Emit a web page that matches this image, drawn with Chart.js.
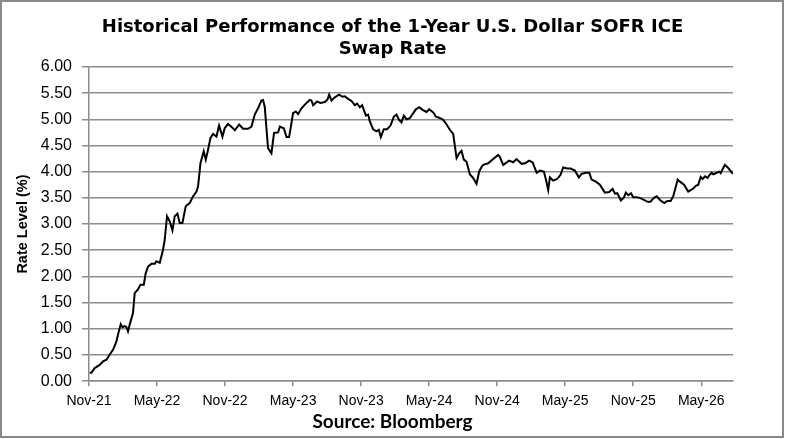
<!DOCTYPE html>
<html><head><meta charset="utf-8">
<script src="https://cdn.jsdelivr.net/npm/chart.js@4.4.1/dist/chart.umd.min.js"></script>
<style>html,body{margin:0;padding:0;background:#fff}#wrap{width:785px;height:439px}</style>
</head><body><div id="wrap"><canvas id="c" width="785" height="439"></canvas></div>
<script>
const titleLines = ['Historical Performance of the 1-Year U.S. Dollar SOFR ICE', 'Swap Rate'];
const sourceText = 'Source: Bloomberg';
const yAxisTitle = 'Rate Level (%)';
const tickLabels = ['Nov-21','May-22','Nov-22','May-23','Nov-23','May-24','Nov-24','May-25','Nov-25','May-26'];
// x position of each observation, in months since Nov-21
const months = [
0.06,0.21,0.50,0.94,1.24,1.54,1.83,2.12,2.42,2.56,2.80,2.95,3.15,3.30,3.44,3.59,3.88,4.03,4.32,4.54,4.83,5.00,5.21,5.51,5.80,5.95,6.24,6.53,6.68,6.88,7.12,7.36,7.56,7.80,8.00,8.24,8.53,8.88,9.18,9.48,9.62,9.83,10.12,10.30,10.50,10.71,10.94,11.24,11.47,11.77,11.97,12.26,12.65,12.86,13.24,13.59,14.03,14.33,14.62,14.91,15.21,15.35,15.50,15.79,16.09,16.32,16.68,
16.83,17.18,17.42,17.65,18.00,18.24,18.44,18.74,19.12,19.47,19.62,19.77,20.12,20.42,20.80,21.04,21.18,21.39,21.68,22.06,22.36,22.56,22.85,23.15,23.44,23.65,23.89,24.09,24.24,24.42,24.62,24.77,25.06,25.36,25.56,25.74,26.00,26.29,26.59,26.89,27.12,27.35,27.56,27.77,28.01,28.30,28.54,28.83,29.12,29.42,29.77,30.00,30.21,30.41,30.59,30.88,31.24,31.54,31.83,32.12,32.42,32.65,32.86,33.06,33.30,33.59,33.88,34.18,34.41,
34.62,34.77,35.21,35.65,36.09,36.24,36.53,37.06,37.41,37.71,38.15,38.45,38.82,39.12,39.48,39.77,40.12,40.30,40.50,40.65,40.94,41.29,41.59,41.82,42.18,42.48,42.86,43.21,43.45,43.83,44.12,44.33,44.71,45.06,45.50,45.88,46.18,46.39,46.59,46.91,47.18,47.35,47.56,47.80,48.00,48.30,48.59,48.94,49.32,49.54,49.83,50.07,50.36,50.74,51.00,51.30,51.53,51.68,51.92,52.12,52.48,52.85,53.24,53.53,53.74,53.95,54.13,54.33,54.57,54.71,54.92,55.06,55.36,55.59,55.71,55.89,56.09,56.38,56.79
];
// 1-Year SOFR ICE swap rate, %
const rates = [
0.16,0.16,0.25,0.31,0.38,0.41,0.51,0.60,0.76,0.89,1.09,1.03,1.05,1.03,0.95,1.08,1.30,1.68,1.75,1.84,1.84,2.06,2.19,2.24,2.24,2.29,2.26,2.51,2.70,3.15,3.05,2.88,3.15,3.20,3.02,3.02,3.34,3.40,3.53,3.62,3.72,4.16,4.39,4.23,4.42,4.64,4.72,4.67,4.88,4.67,4.83,4.91,4.84,4.79,4.90,4.82,4.82,4.86,5.09,5.21,5.36,5.37,5.24,4.45,4.35,4.74,4.75,
4.86,4.83,4.66,4.66,5.12,5.15,5.10,5.21,5.30,5.37,5.36,5.27,5.34,5.31,5.33,5.38,5.47,5.36,5.42,5.47,5.43,5.44,5.39,5.35,5.27,5.30,5.23,5.27,5.18,5.07,5.09,4.96,4.81,4.77,4.80,4.66,4.81,4.81,4.88,5.05,5.09,4.99,4.94,5.07,5.00,5.02,5.10,5.19,5.23,5.18,5.14,5.19,5.16,5.12,5.05,5.03,4.99,4.90,4.80,4.72,4.26,4.35,4.40,4.23,4.19,3.95,3.88,3.77,4.00,
4.09,4.13,4.16,4.24,4.32,4.28,4.13,4.21,4.18,4.24,4.15,4.16,4.21,4.18,3.98,4.02,4.00,3.85,3.65,3.89,3.83,3.86,3.94,4.08,4.06,4.06,4.02,3.89,3.96,3.98,3.98,3.85,3.81,3.75,3.60,3.61,3.67,3.58,3.59,3.45,3.51,3.60,3.55,3.59,3.51,3.51,3.50,3.46,3.42,3.43,3.50,3.53,3.46,3.40,3.44,3.44,3.53,3.65,3.85,3.81,3.75,3.62,3.67,3.73,3.75,3.90,3.86,3.91,3.88,3.93,3.98,3.95,3.98,4.00,3.97,4.05,4.13,4.07,3.96
];

const gridGray = '#8c8c8c';

const frame = {
  id: 'frame',
  beforeDraw(chart) {
    const c = chart.ctx;
    c.save(); c.fillStyle = '#fff'; c.fillRect(0, 0, chart.width, chart.height); c.restore();
  },
  afterDraw(chart) {
    const c = chart.ctx;
    c.save(); c.strokeStyle = '#8a8a8a'; c.lineWidth = 2;
    c.strokeRect(1, 1, 782, 436); c.restore();
  }
};

new Chart(document.getElementById('c'), {
  type: 'line',
  data: {
    datasets: [{
      data: months.map((m, i) => ({ x: m, y: rates[i] })),
      borderColor: '#000', borderWidth: 2, pointRadius: 0, tension: 0, fill: false
    }]
  },
  options: {
    responsive: false, animation: false, devicePixelRatio: 1,
    layout: { padding: 0 },
    plugins: {
      legend: { display: false }, tooltip: { enabled: false },
      title: { display: true, text: titleLines, color: '#000',
        font: { family: 'DejaVu Sans', size: 18, weight: 'bold', lineHeight: 1.22 },
        padding: { top: 16, bottom: 7 } },
      subtitle: { display: true, position: 'bottom', text: sourceText, color: '#000',
        font: { family: 'Lato', size: 19, weight: 'bold', lineHeight: 1.2 },
        padding: { top: 2, bottom: 6 } }
    },
    scales: {
      x: {
        type: 'linear', min: 0, max: 56.8,
        afterFit: s => { s.height = 27; },
        ticks: { stepSize: 6, includeBounds: false, autoSkip: false, maxRotation: 0, padding: 7,
          color: '#000', font: { family: 'Liberation Sans', size: 14 },
          callback: v => tickLabels[Math.round(v / 6)] },
        grid: { drawOnChartArea: false, drawTicks: true, tickLength: 5, color: gridGray, lineWidth: 1.5 },
        border: { display: true, color: gridGray, width: 1.5 }
      },
      y: {
        min: 0, max: 6,
        afterFit: s => { s.width = 89; },
        ticks: { stepSize: 0.5, padding: 10, color: '#000', font: { family: 'Liberation Sans', size: 16 },
          callback: v => v.toFixed(2) },
        grid: { color: gridGray, lineWidth: 1.5, tickLength: 7 },
        border: { display: true, color: gridGray, width: 1.5 },
        title: { display: true, text: yAxisTitle, color: '#000',
          font: { family: 'Liberation Sans', size: 14.5, weight: 'bold', lineHeight: 1.2 },
          padding: { top: 14, bottom: 0 } }
      },
      yr: {
        position: 'right', display: true,
        afterFit: s => { s.width = 52; },
        ticks: { display: false }, grid: { display: false }, border: { display: false }
      }
    }
  },
  plugins: [frame]
});
</script>
</body></html>
